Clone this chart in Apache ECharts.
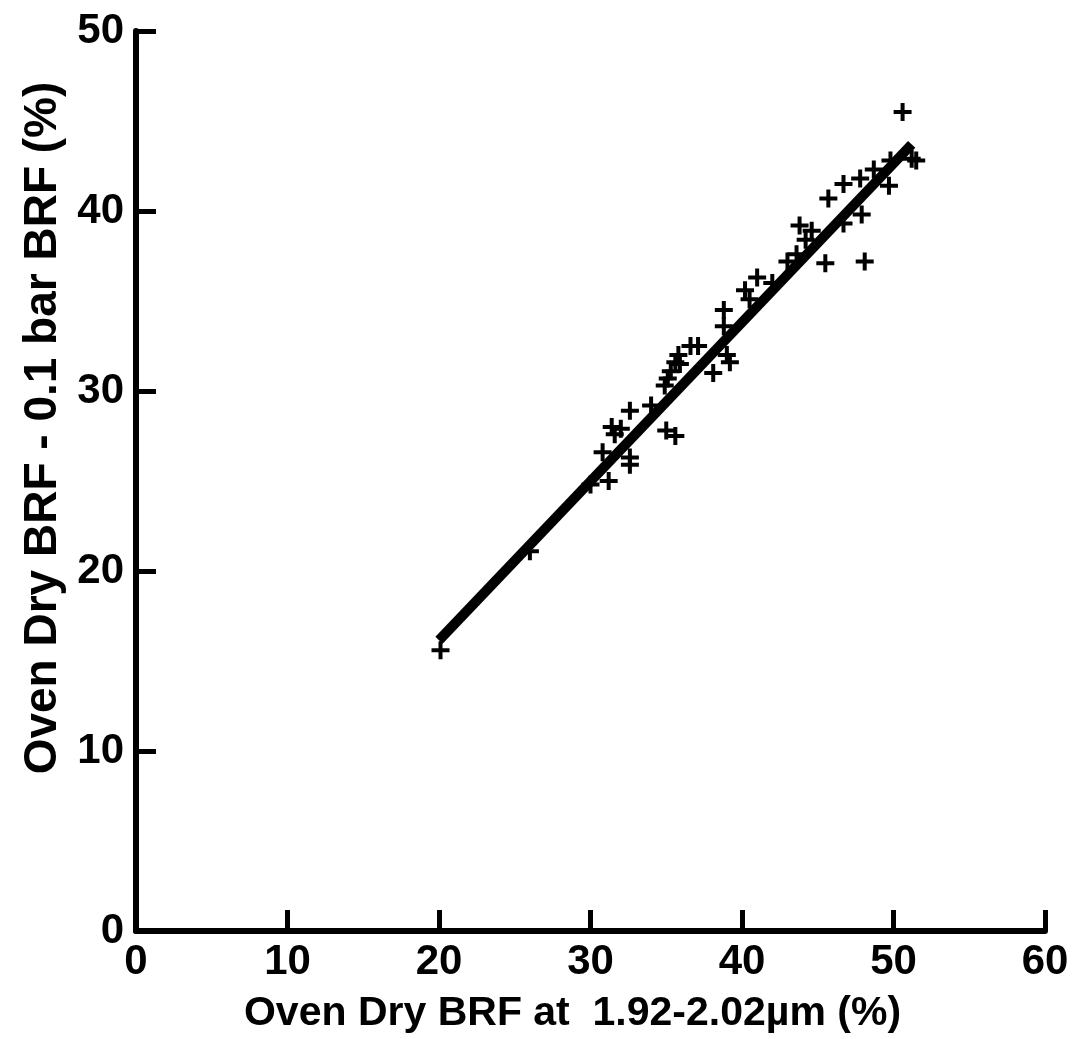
<!DOCTYPE html>
<html>
<head>
<meta charset="utf-8">
<script src="https://cdn.jsdelivr.net/npm/echarts@6/dist/echarts.min.js"></script>
<style>
  html, body { margin: 0; padding: 0; background: #fff; }
  #chart { width: 1074px; height: 1039px; }
</style>
</head>
<body>
<div id="chart"></div>
<script>
// measured points (oven dry BRF vs difference to 0.1 bar)
const ovenDry = [
  20.1, 26.0, 30.0, 31.2, 30.8, 32.6, 32.6, 31.4, 31.6, 32.0,
  32.6, 34.0, 35.0, 35.6, 34.9, 35.1, 35.3, 35.6, 35.9, 35.8,
  36.6, 37.1, 38.1, 39.0, 39.2, 38.8, 38.8, 40.2, 40.5, 41.0,
  42.0, 43.0, 43.6, 43.8, 44.2, 44.6, 45.5, 45.7, 46.7, 46.7,
  47.8, 47.9, 48.1, 48.7, 49.7, 49.8, 50.6, 51.2, 51.5
]
const brfDiff = [
  15.6, 21.1, 24.8, 25.0, 26.6, 26.3, 25.9, 28.0, 27.6, 27.9,
  28.9, 29.2, 27.8, 27.5, 30.3, 30.7, 31.1, 31.6, 31.5, 32.0,
  32.5, 32.5, 31.0, 32.0, 31.6, 34.5, 33.6, 35.6, 35.1, 36.3,
  36.0, 37.2, 37.6, 39.2, 38.4, 38.9, 37.1, 40.7, 41.5, 39.3,
  41.8, 39.8, 37.2, 42.3, 41.4, 42.8, 45.5, 42.9, 42.8
]
// regression line end points
const fitX = [20.0, 51.2]
const fitY = [16.15, 43.7]

const xTicks = [0, 10, 20, 30, 40, 50, 60]
const yTicks = [0, 10, 20, 30, 40, 50]

const font = '"Liberation Sans", Arial, sans-serif'
const plus = 'path://M7,0H11V7H18V11H11V18H7V11H0V7H7Z'

const chart = echarts.init(document.getElementById('chart'))

chart.setOption({
  backgroundColor: '#fff',
  animation: false,
  grid: { left: 136, right: 29, top: 31, bottom: 104 },
  xAxis: {
    type: 'value',
    min: xTicks[0], max: xTicks[xTicks.length - 1], interval: 10,
    name: 'Oven Dry BRF at  1.92-2.02µm (%)',
    nameLocation: 'middle',
    nameGap: 62,
    nameTextStyle: { color: '#000', fontFamily: font, fontWeight: 'bold', fontSize: 41, padding: [0, 36, 0, 0] },
    axisLine: { lineStyle: { color: '#000', width: 6 } },
    axisTick: { inside: true, length: 21, lineStyle: { color: '#000', width: 5 } },
    axisLabel: { color: '#000', fontFamily: font, fontWeight: 'bold', fontSize: 42, margin: 10 },
    splitLine: { show: false },
  },
  yAxis: {
    type: 'value',
    min: yTicks[0], max: yTicks[yTicks.length - 1], interval: 10,
    name: 'Oven Dry BRF - 0.1 bar BRF (%)',
    nameLocation: 'middle',
    nameGap: 70,
    nameTextStyle: { color: '#000', fontFamily: font, fontWeight: 'bold', fontSize: 46, padding: [0, 0, 0, 106] },
    axisLine: { lineStyle: { color: '#000', width: 6 } },
    axisTick: { inside: true, length: 20, lineStyle: { color: '#000', width: 5 } },
    axisLabel: { color: '#000', fontFamily: font, fontWeight: 'bold', fontSize: 42, margin: 12 },
    splitLine: { show: false },
  },
  series: [
    {
      type: 'line',
      data: fitX.map((x, i) => [x, fitY[i]]),
      symbol: 'none',
      lineStyle: { color: '#000', width: 10 },
      z: 2,
    },
    {
      type: 'scatter',
      data: ovenDry.map((x, i) => [x, brfDiff[i]]),
      symbol: plus,
      symbolSize: 18,
      itemStyle: { color: '#000', opacity: 1 },
      z: 3,
    },
  ],
})
</script>
</body>
</html>
